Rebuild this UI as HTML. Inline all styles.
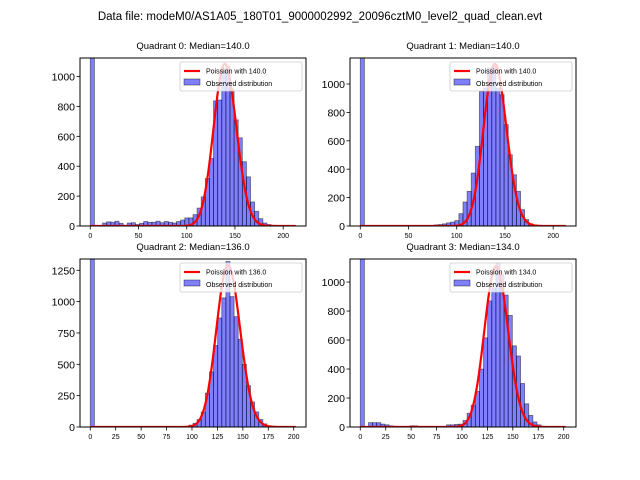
<!DOCTYPE html>
<html><head><meta charset="utf-8"><style>
body{margin:0;background:#fff;}
svg{display:block;font-family:"Liberation Sans","DejaVu Sans",sans-serif;}
</style></head><body>
<svg id="fig" width="640" height="480">
<text x="320" y="20" font-size="11.5" text-anchor="middle">Data file: modeM0/AS1A05_180T01_9000002992_20096cztM0_level2_quad_clean.evt</text>
</svg>
<script>
// ---- data ----
const q0Counts = [3000,0,0,20,28,25,32,18,5,20,22,10,18,30,25,25,32,22,30,25,20,30,40,54,54,76,120,195,318,452,837,843,1033,1067,917,710,590,430,329,161,98,49,20,10,5,3,2,1,1,0];
const q1Counts = [3000,0,0,0,0,0,0,0,0,0,0,0,0,0,0,3,0,0,8,10,15,22,28,38,87,169,244,373,561,948,972,1113,1124,972,925,714,502,361,244,115,45,16,6,3,1,1,0,0,0,0];
const q2Counts = [3000,0,0,0,0,0,0,0,0,0,0,0,0,0,0,0,0,0,0,0,0,0,0,3,15,30,60,120,270,440,650,870,1030,1320,1040,880,700,500,330,200,120,60,25,10,4,2,1,0,0,0];
const q3Counts = [3000,0,30,30,30,20,15,8,5,0,0,0,8,8,0,0,0,0,0,0,0,15,15,18,20,45,95,150,245,400,615,870,960,1130,1050,910,770,560,490,300,160,80,35,15,5,2,1,0,0,0];
const binWidths = [4.26,4.26,4.04,4.04];
const lambdas = [140.0,140.0,136.0,134.0];
const curvePeaks = [1084,1141,1290,1108];
const yMaxes = [1124,1183,1340,1159];
const yTicks01 = [0,200,400,600,800,1000];
const yTicks2 = [0,250,500,750,1000,1250];
const yTicks3 = [0,200,400,600,800,1000];
const xTicksTop = [0,50,100,150,200];
const xTicksBottom = [0,25,50,75,100,125,150,175,200];
const titles = ["Quadrant 0: Median=140.0","Quadrant 1: Median=140.0","Quadrant 2: Median=136.0","Quadrant 3: Median=134.0"];

const NS="http://www.w3.org/2000/svg";
const svg=document.getElementById('fig');
function mk(tag,attrs,parent){const e=document.createElementNS(NS,tag);for(const k in attrs)e.setAttribute(k,attrs[k]);(parent||svg).appendChild(e);return e;}

const panels=[
 {left:80,top:58,counts:q0Counts,yt:yTicks01,xt:xTicksTop},
 {left:350,top:58,counts:q1Counts,yt:yTicks01,xt:xTicksTop},
 {left:80,top:259,counts:q2Counts,yt:yTicks2,xt:xTicksBottom},
 {left:350,top:259,counts:q3Counts,yt:yTicks3,xt:xTicksBottom}
];
const W=226,H=168;

panels.forEach((p,qi)=>{
  const g=mk('g',{});
  
  
  const bw=binWidths[qi], n=p.counts.length, R=n*bw;
  const xmin=-0.05*R, xmax=1.05*R, ymax=yMaxes[qi];
  const X=v=>p.left+(v-xmin)/(xmax-xmin)*W;
  const Y=v=>p.top+H-(v/ymax)*H;
  const clipId='clip'+qi;
  const cp=mk('clipPath',{id:clipId},g);
  mk('rect',{x:p.left,y:p.top,width:W,height:H},cp);
  const plot=mk('g',{'clip-path':'url(#'+clipId+')'},g);
  // bars
  p.counts.forEach((c,i)=>{
    if(c<=0)return;
    const x0=X(i*bw),x1=X((i+1)*bw);
    const r=mk('rect',{x:x0,y:Y(c),width:x1-x0,height:Y(0)-Y(c),fill:'rgba(0,0,255,0.5)',stroke:'rgba(0,0,0,0.5)','stroke-width':0.8},plot);
    
    
  });
  // poisson curve
  const lam=lambdas[qi];
  const pm=[];let pk=Math.exp(-lam);pm.push(pk);
  const kmax=Math.floor(R);
  for(let k=1;k<=kmax;k++){pk=pk*lam/k;pm.push(pk);}
  let pmMode=Math.exp(-lam);for(let k=1;k<=Math.floor(lam);k++)pmMode=pmMode*lam/k;
  let d='';
  pm.forEach((v,k)=>{const y=curvePeaks[qi]*v/pmMode;d+=(k?'L':'M')+X(k).toFixed(2)+','+Y(y).toFixed(2);});
  const cur=mk('path',{d:d,fill:'none',stroke:'#ff0000','stroke-width':2.2,'stroke-linejoin':'round'},plot);
  
  
  // frame
  const fr=mk('rect',{x:p.left,y:p.top,width:W,height:H,fill:'none',stroke:'#000','stroke-width':1},g);
  
  
  // y ticks
  p.yt.forEach(v=>{
    const y=Y(v);
    mk('line',{x1:p.left-3.5,x2:p.left,y1:y,y2:y,stroke:'#000','stroke-width':0.8},g);
    const t=mk('text',{x:p.left-5,y:y+4,'font-size':10.5,'text-anchor':'end'},g);
    t.textContent=v;
    
    
  });
  // x ticks
  p.xt.forEach(v=>{
    const x=X(v);
    mk('line',{x1:x,x2:x,y1:p.top+H,y2:p.top+H+3.5,stroke:'#000','stroke-width':0.8},g);
    const t=mk('text',{x:x,y:p.top+H+12,'font-size':7,'text-anchor':'middle'},g);
    t.textContent=v;
    
    
  });
  // title
  const tt=mk('text',{x:p.left+W/2,y:p.top-9,'font-size':9.5,'text-anchor':'middle'},g);
  tt.textContent=titles[qi];
  
  
  // legend
  const lg=mk('g',{},g);
  
  
  const lx=p.left+W-126,ly=p.top+4;
  mk('rect',{x:lx,y:ly,width:122,height:29,rx:2,fill:'rgba(255,255,255,0.8)',stroke:'#ccc','stroke-width':0.8},lg);
  mk('line',{x1:lx+4,x2:lx+20,y1:ly+9,y2:ly+9,stroke:'#ff0000','stroke-width':2.2},lg);
  const l1=mk('text',{x:lx+26,y:ly+11.5,'font-size':7},lg);l1.textContent='Poission with '+lambdas[qi].toFixed(1);
  
  
  mk('rect',{x:lx+4,y:ly+17,width:16,height:6,fill:'rgba(0,0,255,0.5)',stroke:'rgba(0,0,0,0.5)','stroke-width':0.8},lg);
  const l2=mk('text',{x:lx+26,y:ly+24,'font-size':7},lg);l2.textContent='Observed distribution';
  
  
});
</script>
</body></html>
